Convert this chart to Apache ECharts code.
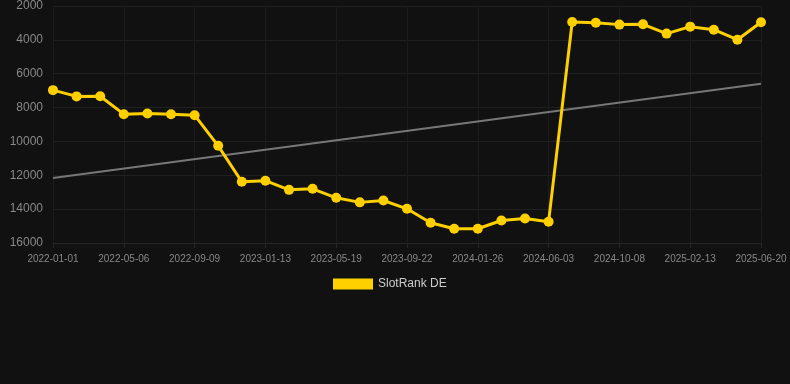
<!DOCTYPE html>
<html><head><meta charset="utf-8">
<script src="https://cdn.jsdelivr.net/npm/echarts@6/dist/echarts.min.js"></script>
<style>html,body{margin:0;padding:0;background:#111111;}#c{width:790px;height:384px;}</style>
</head><body><div id="c"></div>
<script>
var dates = ["2022-01-01","2022-02-11","2022-03-25","2022-05-06","2022-06-17","2022-07-29","2022-09-09","2022-10-21","2022-12-02","2023-01-13","2023-02-24","2023-04-07","2023-05-19","2023-06-30","2023-08-11","2023-09-22","2023-11-03","2023-12-15","2024-01-26","2024-03-08","2024-04-19","2024-06-03","2024-07-15","2024-08-26","2024-10-08","2024-11-19","2025-01-01","2025-02-13","2025-03-28","2025-05-09","2025-06-20"];
var rankValues = [6970,7340,7330,8390,8350,8390,8450,10260,12380,12320,12860,12800,13330,13600,13490,13980,14800,15160,15160,14670,14550,14740,2944,2985,3100,3080,3630,3220,3400,3990,2960];
var trendStart = 12160;
var trendEnd = 6590;
var seriesName = "SlotRank DE";

var trendData = dates.map(function(d, i){ return i === 0 ? trendStart : (i === dates.length - 1 ? trendEnd : null); });

var chart = echarts.init(document.getElementById('c'));
chart.setOption({
  backgroundColor: '#111111',
  animation: false,
  grid: {left: 53, right: 29, top: 6, bottom: 141},
  legend: {
    data: [{name: seriesName, icon: 'rect'}],
    top: 273, left: 328,
    itemWidth: 40, itemHeight: 11, itemGap: 10,
    textStyle: {color: '#cccccc', fontSize: 12, fontFamily: 'Liberation Sans'}
  },
  xAxis: {
    type: 'category', data: dates, boundaryGap: false,
    axisLine: {show: true, lineStyle: {color: '#262626'}},
    axisTick: {show: true, interval: 2, lineStyle: {color: '#262626'}},
    axisLabel: {interval: 2, color: '#888888', fontSize: 10, fontFamily: 'Liberation Sans', margin: 11},
    splitLine: {show: true, interval: 2, lineStyle: {color: '#1c1c1c'}}
  },
  yAxis: {
    type: 'value', inverse: true, min: 2000, max: 16000, interval: 2000,
    axisLine: {show: false}, axisTick: {show: false},
    axisLabel: {color: '#888888', fontSize: 12, fontFamily: 'Liberation Sans', margin: 10,
      formatter: function(v){ return String(v); }},
    splitLine: {lineStyle: {color: '#202020'}}
  },
  series: [
    {
      name: 'trend', type: 'line', data: trendData, connectNulls: true,
      symbol: 'none', lineStyle: {color: '#777777', width: 2}, z: 1, silent: true
    },
    {
      name: seriesName, type: 'line', data: rankValues,
      symbol: 'circle', symbolSize: 10,
      itemStyle: {color: '#FFD000'},
      lineStyle: {color: '#FFD000', width: 3}, z: 3
    }
  ]
});
</script></body></html>
